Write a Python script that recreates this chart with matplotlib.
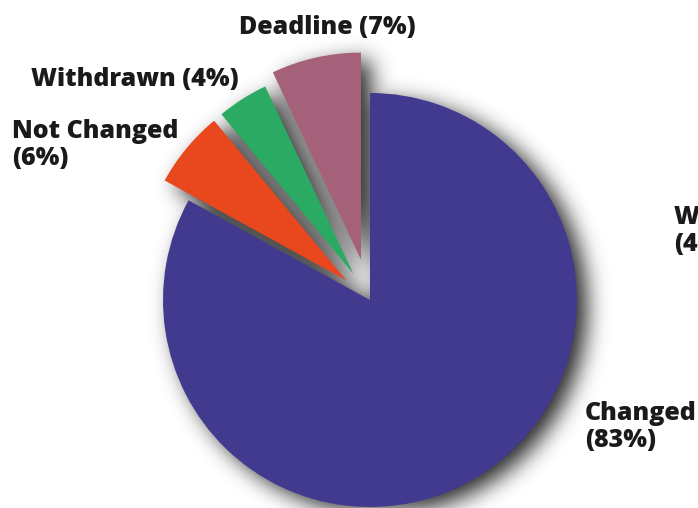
import numpy as np
import matplotlib
matplotlib.use("Agg")
import matplotlib.pyplot as plt

# Data
labels = ["Changed", "Not Changed", "Withdrawn", "Deadline"]
shares = [83, 6, 4, 7]
colors = ["#413a8f", "#e9471e", "#2aaa62", "#a6617a"]
explode = [0.0, 0.15, 0.15, 0.2]

W, H = 698, 508
S = 207.0  # pixels per unit radius
CX, CY = 370, 300  # pie centre in pixels (from top-left)

plt.rcParams['font.family'] = ['Open Sans', 'DejaVu Sans']

fig = plt.figure(figsize=(W / 100, H / 100), dpi=100)
ax = fig.add_axes([0, 0, 1, 1])
wedges, _ = ax.pie(shares, colors=colors, explode=explode, startangle=90,
                   counterclock=False, radius=1.0,
                   wedgeprops=dict(linewidth=0))
for w in wedges:
    w.set_zorder(3)

xlim = (-CX / S, (W - CX) / S)
ylim = (-(H - CY) / S, CY / S)
ax.set_xlim(*xlim)
ax.set_ylim(*ylim)
ax.set_aspect('equal')
ax.axis('off')


def blur(img, sigma):
    k = np.arange(-3 * sigma, 3 * sigma + 1)
    g = np.exp(-k ** 2 / (2.0 * sigma ** 2))
    g /= g.sum()
    out = np.apply_along_axis(lambda m: np.convolve(m, g, mode='same'), 0, img)
    out = np.apply_along_axis(lambda m: np.convolve(m, g, mode='same'), 1, out)
    return out


# soft drop shadow built from the wedge geometry
ox, oy = 0.05, -0.035
xs = np.linspace(xlim[0], xlim[1], W)
ys = np.linspace(ylim[0], ylim[1], H)
X, Y = np.meshgrid(xs, ys)
mask = np.zeros_like(X)
for w in wedges:
    cx, cy = w.center
    dx = X - cx - ox
    dy = Y - cy - oy
    ang = np.degrees(np.arctan2(dy, dx))
    span = (w.theta2 - w.theta1) % 360
    inside = (np.hypot(dx, dy) <= w.r) & (((ang - w.theta1) % 360) <= span)
    mask[inside] = 1.0
shade = blur(mask, 11)
rgba = np.zeros((H, W, 4))
rgba[..., 3] = np.clip(shade * 0.85, 0, 1)
ax.imshow(rgba, extent=(xlim[0], xlim[1], ylim[0], ylim[1]), origin='lower',
          zorder=1, interpolation='bilinear')
ax.set_xlim(*xlim)
ax.set_ylim(*ylim)

txt = dict(fontsize=18, fontweight='heavy', color='#1a1a1a', linespacing=1.08)


def put(px, py, s, **kw):
    fig.text(px / W, 1 - py / H, s, **txt, **kw)


put(239, 27, f"{labels[3]} ({shares[3]}%)", ha='left', va='center')
put(31, 80, f"{labels[2]} ({shares[2]}%)", ha='left', va='center')
put(12, 145, f"{labels[1]}\n({shares[1]}%)", ha='left', va='center')
put(585, 427, f"{labels[0]}\n({shares[0]}%)", ha='left', va='center')
put(674, 231, f"{labels[2]}\n({shares[2]}%)", ha='left', va='center')

fig.savefig("out.png", dpi=100)
